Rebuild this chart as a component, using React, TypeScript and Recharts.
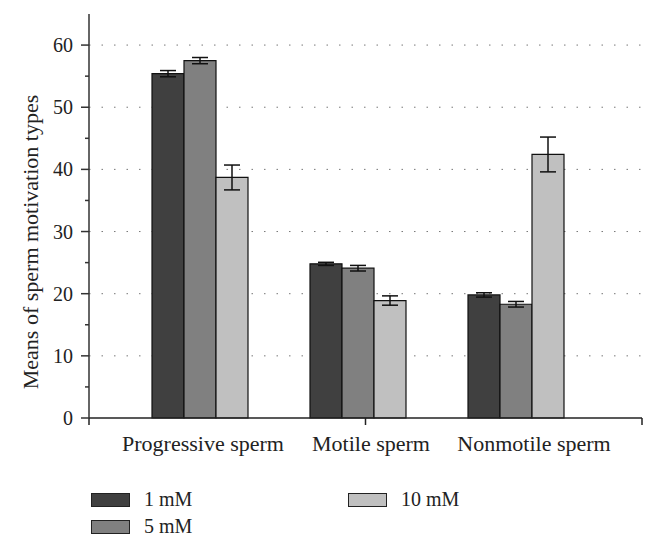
import React from 'react'
import { BarChart, Bar, XAxis, YAxis, CartesianGrid, ErrorBar } from 'recharts'

const categories = ['Progressive sperm', 'Motile sperm', 'Nonmotile sperm']
const seriesNames = ['1 mM', '5 mM', '10 mM']
const seriesColors = ['#404040', '#808080', '#c0c0c0']
const mean1mM = [55.4, 24.8, 19.8]
const err1mM = [0.5, 0.25, 0.35]
const mean5mM = [57.5, 24.1, 18.3]
const err5mM = [0.5, 0.45, 0.45]
const mean10mM = [38.7, 18.9, 42.4]
const err10mM = [2.0, 0.75, 2.8]
const yTicks = [0, 5, 10, 15, 20, 25, 30, 35, 40, 45, 50, 55, 60, 65]
const gridValues = [10, 20, 30, 40, 50, 60]
const xTickMarks = [0, 1, 2, 3, 4, 5, 6, 7]

const data = categories.map((name, i) => ({
  name,
  s0: mean1mM[i], e0: err1mM[i],
  s1: mean5mM[i], e1: err5mM[i],
  s2: mean10mM[i], e2: err10mM[i],
}))

const FONT = 'Liberation Serif'
// the category labels in the original sit a little right of their bar groups
const labelShift = [3, 13, 18]

const YTick = (props: any) => {
  const { x, y, payload } = props
  const v = payload.value
  if (v > 60) return null
  const major = v % 10 === 0
  return (
    <g>
      <line x1={x - (major ? 8 : 4)} x2={x} y1={y} y2={y} stroke="#333" strokeWidth={1.5} />
      {major && (
        <text x={x - 16} y={y} dy="0.35em" textAnchor="end" fontSize={20} fontFamily={FONT} fill="#222">
          {v}
        </text>
      )}
    </g>
  )
}

const MarkTick = (props: any) => {
  const { x, y } = props
  return <line x1={x} x2={x} y1={y - 1} y2={y + 6} stroke="#222" strokeWidth={1.5} />
}

const XTick = (props: any) => {
  const { x, y, payload, index } = props
  return (
    <text x={x + labelShift[index]} y={y} dy={22} textAnchor="middle" fontSize={22} fontFamily={FONT} fill="#222">
      {payload.value}
    </text>
  )
}

const YLabel = () => (
  <text
    x={30}
    y={242}
    transform="rotate(-90, 30, 242)"
    textAnchor="middle"
    dominantBaseline="central"
    fontSize={22}
    fontFamily={FONT}
    fill="#222"
  >
    Means of sperm motivation types
  </text>
)

export default function App() {
  return (
    <div style={{ position: 'absolute', left: 0, top: 0, width: 657, height: 548, background: '#fff', fontFamily: FONT }}>
      <BarChart
        width={657}
        height={548}
        data={data}
        margin={{ top: 14, right: 15, bottom: 128, left: 0 }}
        barGap={0}
        barSize={32}
      >
        <CartesianGrid
          vertical={false}
          horizontalValues={gridValues}
          stroke="#777"
          strokeDasharray="1.5 11"
        />
        <XAxis
          dataKey="name"
          padding={{ left: 32, right: 47 }}
          height={1}
          tickLine={false}
          tickSize={0}
          tickMargin={11}
          axisLine={{ stroke: '#222', strokeWidth: 1.5 }}
          tick={<XTick />}
          interval={0}
        />
        <XAxis
          xAxisId="marks"
          type="number"
          scale="linear"
          domain={[0, 7]}
          ticks={xTickMarks}
          tickCount={8}
          interval={0}
          allowDataOverflow
          allowDecimals={false}
          height={1}
          tick={<MarkTick />}
          tickSize={0}
          tickMargin={0}
          tickLine={false}
          axisLine={false}
        />
        <YAxis
          width={89}
          domain={[0, 65]}
          ticks={yTicks}
          interval={0}
          tickSize={0}
          tickMargin={0}
          tickLine={false}
          tick={<YTick />}
          axisLine={{ stroke: '#333', strokeWidth: 1.5 }}
          label={{ content: () => <YLabel /> }}
        />
        {seriesNames.map((s, i) => (
          <Bar
            key={s}
            dataKey={`s${i}`}
            name={s}
            fill={seriesColors[i]}
            stroke="#111"
            strokeWidth={1.2}
            isAnimationActive={false}
          >
            <ErrorBar dataKey={`e${i}`} width={8} stroke="#111" strokeWidth={1.5} />
          </Bar>
        ))}
      </BarChart>
      {seriesNames.map((s, i) => (
        <div
          key={s}
          style={{
            position: 'absolute',
            left: i < 2 ? 91 : 348,
            top: i < 2 ? 492 + i * 27 : 492,
            display: 'flex',
            alignItems: 'center',
            fontSize: 20,
            color: '#222',
            lineHeight: '15px',
          }}
        >
          <span
            style={{
              display: 'inline-block',
              width: 37,
              height: 12,
              background: seriesColors[i],
              border: '1px solid #222',
              marginRight: 14,
            }}
          />
          {s}
        </div>
      ))}
    </div>
  )
}
